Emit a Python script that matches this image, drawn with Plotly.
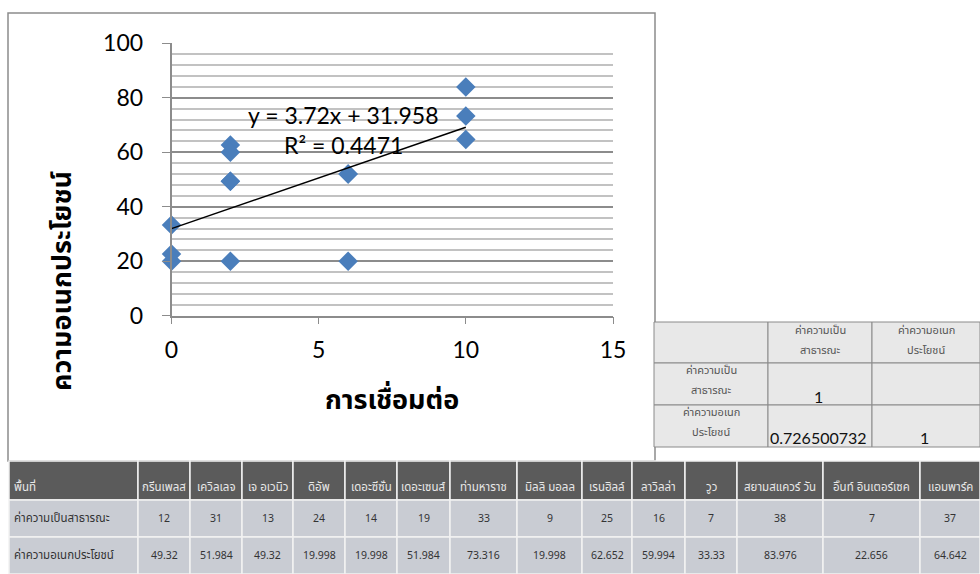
import plotly.graph_objects as go

# ---- data -------------------------------------------------------------
areas = ["กรีนเพลส", "เควิลเลจ", "เจ อเวนิว", "ดิอัพ", "เดอะซีซั่น", "เดอะเซนส์",
         "ท่ามหาราช", "มิลลิ มอลล", "เรนฮิลล์", "ลาวิลล่า", "วูว", "สยามสแควร์ วัน",
         "อิ๊นท์ อินเตอร์เซค", "แอมพาร์ค"]
publicness = [12, 31, 13, 24, 14, 19, 33, 9, 25, 16, 7, 38, 7, 37]
usefulness = [49.32, 51.984, 49.32, 19.998, 19.998, 51.984, 73.316, 19.998,
              62.652, 59.994, 33.33, 83.976, 22.656, 64.642]
connectivity = [2, 6, 2, 0, 2, 6, 10, 6, 2, 2, 0, 10, 0, 10]

trend_slope = 3.72
trend_intercept = 31.958
r_squared = 0.4471

area_label = "พื้นที่"
row_labels = ["ค่าความเป็นสาธารณะ", "ค่าความอเนกประโยชน์"]
corr_headers = [["ค่าความเป็น", "สาธารณะ"], ["ค่าความอเนก", "ประโยชน์"]]
corr_public_useful = 0.726500732

x_ticks = [0, 5, 10, 15]
y_ticks = [0, 20, 40, 60, 80, 100]

# ---- page geometry (pixels of a 980 x 574 page) ------------------------
W, H = 980, 574
FONT = "Lato, 'Noto Sans Thai', 'Noto Sans', sans-serif"
THAI = "'Noto Sans Thai', 'Noto Sans', Lato, sans-serif"


def px(x):
    return x / W


def py(y):
    return 1 - y / H


fig = go.Figure()

# scatter of the 14 areas
fig.add_trace(go.Scatter(
    x=connectivity, y=usefulness, mode="markers", cliponaxis=False,
    marker=dict(symbol="diamond", size=15, color="#4a7ebb", line=dict(width=0)),
    hoverinfo="x+y", showlegend=False,
))

# linear trend line
tx = [min(connectivity), max(connectivity)]
ty = [trend_slope * v + trend_intercept for v in tx]
fig.add_trace(go.Scatter(
    x=tx, y=ty, mode="lines", cliponaxis=False,
    line=dict(color="black", width=1.5),
    hoverinfo="skip", showlegend=False,
))

annotations = [
    dict(x=5.84, y=73.7, xref="x", yref="y", showarrow=False,
         text=f"y = {trend_slope}x + {trend_intercept}",
         font=dict(family=FONT, size=23, color="black")),
    dict(x=5.84, y=62.7, xref="x", yref="y", showarrow=False,
         text=f"R² = {r_squared}",
         font=dict(family=FONT, size=23, color="black")),
]


def label(text, x, y, size, color, family=THAI, anchor="center", **kw):
    annotations.append(dict(x=px(x), y=py(y), xref="paper", yref="paper",
                            xanchor=anchor, yanchor="middle", showarrow=False,
                            text=text, font=dict(family=family, size=size,
                                                 color=color, **kw)))


# axis titles
annotations.append(dict(x=px(62), y=py(281), xref="paper", yref="paper",
                        xanchor="center", yanchor="middle", showarrow=False,
                        text="ความอเนกประโยชน์", textangle=-90,
                        font=dict(family=THAI, size=27, color="black", weight="bold")))
label("การเชื่อมต่อ", 392, 400, 27, "black", weight="bold")

shapes = [
    # chart frame
    dict(type="rect", xref="paper", yref="paper",
         x0=px(8), x1=px(655), y0=py(461), y1=py(13),
         line=dict(color="#8c8c8c", width=1.5), fillcolor="rgba(0,0,0,0)",
         layer="below"),
]


def cell(x0, x1, y0, y1, fill, line_color, width):
    shapes.append(dict(type="rect", xref="paper", yref="paper",
                       x0=px(x0), x1=px(x1), y0=py(y1), y1=py(y0),
                       fillcolor=fill, line=dict(color=line_color, width=width),
                       layer="below"))


# ---- correlation matrix (small grey table at the right) ----------------
cx = [654, 768, 872, 980]
cy = [322, 363, 405, 447]
for r in range(3):
    for c in range(3):
        cell(cx[c], cx[c + 1], cy[r], cy[r + 1], "#e8e8e8", "#8a8a8a", 1)

for j, lines in enumerate(corr_headers):
    colc = (cx[j + 1] + cx[j + 2]) / 2
    label(lines[0], colc, 330, 11, "#555555")
    label(lines[1], colc, 350, 11, "#555555")
for i, lines in enumerate(corr_headers):
    rtop = cy[i + 1]
    label(lines[0], (cx[0] + cx[1]) / 2, rtop + 7, 11, "#555555")
    label(lines[1], (cx[0] + cx[1]) / 2, rtop + 27, 11, "#555555")

corr_matrix = [[1, None], [corr_public_useful, 1]]
for i, row in enumerate(corr_matrix):
    for j, v in enumerate(row):
        if v is not None:
            label(str(v), (cx[j + 1] + cx[j + 2]) / 2 - 2, cy[i + 1] + 33, 16,
                  "#111111", family=FONT)

# ---- data table along the bottom --------------------------------------
col_widths = [129, 52, 52, 51, 52, 52, 53, 67, 65, 50, 53, 52, 86, 97, 60]
row_edges = [461, 500, 537, 574]
edges = [9]
for w in col_widths:
    edges.append(edges[-1] + w)

table_rows = [[area_label] + areas,
              [row_labels[0]] + [str(v) for v in publicness],
              [row_labels[1]] + [str(v) for v in usefulness]]
for r, row in enumerate(table_rows):
    top, bot = row_edges[r], row_edges[r + 1]
    header = r == 0
    for c, text in enumerate(row):
        cell(edges[c], edges[c + 1], top, bot,
             "#5b5b5b" if header else "#c9ccd3", "#f2f2f2", 1.5)
        ty_txt = (top + 26) if header else (top + bot) / 2
        color = "#e8e8e8" if header else "#333333"
        size = 11.5 if (header or c == 0) else 10.5
        if c == 0:
            label(text, edges[c] + 3, ty_txt, size, color, anchor="left")
        else:
            label(text, (edges[c] + edges[c + 1]) / 2, ty_txt, size, color)

fig.update_layout(
    width=W, height=H, autosize=False,
    margin=dict(l=0, r=0, t=0, b=0, pad=0, autoexpand=False),
    paper_bgcolor="white", plot_bgcolor="white", showlegend=False,
    annotations=annotations, shapes=shapes,
    xaxis=dict(domain=[px(171.5), px(613)], range=[0, 15], tickvals=x_ticks,
               automargin=False,
               showgrid=False, zeroline=False, showline=True, linecolor="#8c8c8c",
               linewidth=1.5, ticks="outside", ticklen=7, tickcolor="#8c8c8c",
               tickfont=dict(family=FONT, size=23, color="black"),
               ticklabelstandoff=6),
    yaxis=dict(domain=[py(315.7), py(43.3)], range=[0, 100], tickvals=y_ticks,
               automargin=False,
               showgrid=True, gridcolor="#8c8c8c", gridwidth=1.5,
               minor=dict(dtick=4, showgrid=True, gridcolor="#c2c2c2", gridwidth=1.5),
               zeroline=False, showline=True, linecolor="#8c8c8c", linewidth=1.5,
               ticks="outside", ticklen=8, tickcolor="#8c8c8c",
               tickfont=dict(family=FONT, size=23, color="black"),
               ticklabelstandoff=14),
)

fig.write_html("out.html")
